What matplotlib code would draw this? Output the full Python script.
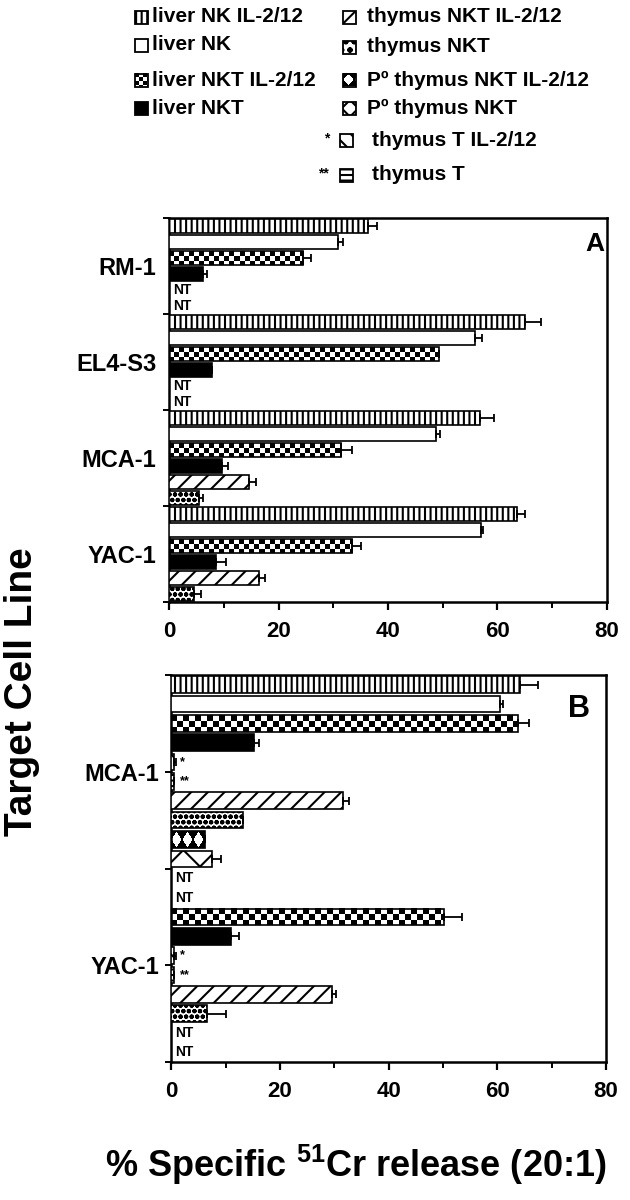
import numpy as np
import matplotlib
matplotlib.use('Agg')
import matplotlib.pyplot as plt
from matplotlib.patches import Rectangle

plt.rcParams['font.family'] = ['Liberation Sans', 'DejaVu Sans']
plt.rcParams['font.weight'] = 'bold'
plt.rcParams['hatch.linewidth'] = 1.5
plt.rcParams['mathtext.fontset'] = 'custom'
plt.rcParams['mathtext.rm'] = 'Liberation Sans:bold'
plt.rcParams['mathtext.bf'] = 'Liberation Sans:bold'

nan = np.nan

# ---- Panel A data (slots top to bottom within each target) ----
targets_a = ['RM-1', 'EL4-S3', 'MCA-1', 'YAC-1']
series_a = ['liver NK IL-2/12', 'liver NK', 'liver NKT IL-2/12', 'liver NKT',
            'thymus NKT IL-2/12', 'thymus NKT']
a_liver_nk_il2 = [36.4, 65.0, 56.8, 63.5]
a_liver_nk = [30.8, 55.9, 48.8, 57.0]
a_liver_nkt_il2 = [24.5, 49.4, 31.5, 33.5]
a_liver_nkt = [6.3, 7.9, 9.7, 8.5]
a_thymus_nkt_il2 = [nan, nan, 14.6, 16.4]
a_thymus_nkt = [nan, nan, 5.4, 4.6]
a_err_liver_nk_il2 = [1.6, 2.9, 2.6, 1.6]
a_err_liver_nk = [1.0, 1.2, 0.7, 0.3]
a_err_liver_nkt_il2 = [1.5, 0.0, 2.0, 1.5]
a_err_liver_nkt = [0.6, 0.0, 1.0, 2.0]
a_err_thymus_nkt_il2 = [nan, nan, 1.3, 1.1]
a_err_thymus_nkt = [nan, nan, 0.9, 1.2]

# ---- Panel B data ----
targets_b = ['MCA-1', 'YAC-1']
series_b = ['liver NK IL-2/12', 'liver NK', 'liver NKT IL-2/12', 'liver NKT',
            'thymus T IL-2/12', 'thymus T', 'thymus NKT IL-2/12', 'thymus NKT',
            'Pº thymus NKT IL-2/12', 'Pº thymus NKT']
b_liver_nk_il2 = [64.2, nan]
b_liver_nk = [60.5, nan]
b_liver_nkt_il2 = [63.8, 50.2]
b_liver_nkt = [15.2, 10.9]
b_thymus_t_il2 = [0.5, 0.5]
b_thymus_t = [0.5, 0.5]
b_thymus_nkt_il2 = [31.6, 29.6]
b_thymus_nkt = [13.1, 6.6]
b_po_thymus_nkt_il2 = [6.2, nan]
b_po_thymus_nkt = [7.4, nan]
b_err_liver_nk_il2 = [3.3, nan]
b_err_liver_nk = [0.5, nan]
b_err_liver_nkt_il2 = [2.0, 3.2]
b_err_liver_nkt = [1.0, 1.5]
b_err_thymus_t_il2 = [0.3, 0.3]
b_err_thymus_t = [0.0, 0.0]
b_err_thymus_nkt_il2 = [1.1, 0.7]
b_err_thymus_nkt = [0.0, 3.4]
b_err_po_thymus_nkt_il2 = [0.0, nan]
b_err_po_thymus_nkt = [1.7, nan]

# fill style of each group
styles = {
    'liver NK IL-2/12': ('hatch', '|||'),
    'liver NK': ('plain', None),
    'liver NKT IL-2/12': ('checker', None),
    'liver NKT': ('solid', None),
    'thymus NKT IL-2/12': ('hatch', '//'),
    'thymus NKT': ('hatch', 'ooo'),
    'Pº thymus NKT IL-2/12': ('diamond', None),
    'Pº thymus NKT': ('hatch', 'x'),
    'thymus T IL-2/12': ('hatch', '\\\\'),
    'thymus T': ('hatch', '---'),
}
stars = {'thymus T IL-2/12': '*', 'thymus T': '**'}


def pattern(kind, w, h, cell):
    w = max(int(round(w)), 1)
    h = max(int(round(h)), 1)
    yy, xx = np.mgrid[0:h, 0:w]
    if kind == 'checker':
        return ((xx // cell + yy // cell) % 2).astype(float)
    # white diamonds on black
    cw = 11
    dx = ((xx % cw) - cw / 2 + 0.5) / (cw / 2)
    dy = (yy - h / 2 + 0.5) / (h / 2)
    return (np.abs(dx) + np.abs(dy) < 0.9).astype(float)


def fill_rect(ax, x0, x1, y0, y1, kind, name, wpx, hpx, cell, lw=1.2, hatch_override=None):
    face = 'white'
    hatch = None
    if kind == 'solid':
        face = 'black'
    elif kind == 'hatch':
        hatch = hatch_override or styles[name][1]
    elif kind in ('checker', 'diamond'):
        face = 'none'
        ax.imshow(pattern(kind, wpx, hpx, cell), cmap='gray', vmin=0, vmax=1,
                  extent=[x0, x1, y1, y0], aspect='auto',
                  interpolation='nearest', zorder=2)
    ax.add_patch(Rectangle((x0, y0), x1 - x0, y1 - y0, facecolor=face,
                           edgecolor='black', hatch=hatch, lw=lw, zorder=3))


W, H = 630, 1200
fig = plt.figure(figsize=(W / 100, H / 100), dpi=100)

# overlay in pixel coordinates for legend and axis titles
ov = fig.add_axes([0, 0, 1, 1])
ov.set_xlim(0, W)
ov.set_ylim(H, 0)
ov.axis('off')


def px_axes(l, t, r, b):
    return fig.add_axes([l / W, 1 - b / H, (r - l) / W, (b - t) / H])


def panel(ax, targets, names, values, errors, letter, lpos, lsize, cell, ytick_len):
    n_per = len(names)
    n = len(targets) * n_per
    bh = 0.86
    px_x = ax.bbox.width / 80
    px_y = ax.bbox.height / n
    for k, name in enumerate(names):
        kind = styles[name][0]
        vals = np.array(values[k], dtype=float)
        errs = np.array(errors[k], dtype=float)
        ys = np.array([g * n_per + k + 0.5 for g in range(len(targets))])
        for v, y in zip(vals, ys):
            if np.isnan(v):
                ax.text(0.7, y, 'NT', fontsize=10, ha='left', va='center', zorder=5)
                continue
            fill_rect(ax, 0, v, y - bh / 2, y + bh / 2, kind, name,
                      v * px_x, bh * px_y, cell)
            if name in stars:
                ax.text(1.6, y, stars[name], fontsize=9, ha='left', va='center')
        ax.errorbar(vals, ys, xerr=[np.zeros_like(errs), errs], fmt='none',
                    ecolor='black', elinewidth=1.3, capsize=2.6, capthick=1.3, zorder=4)
    ax.set_xlim(0, 80)
    ax.set_ylim(n, 0)
    ax.set_xticks([0, 20, 40, 60, 80])
    ax.set_xticks([10, 30, 50, 70], minor=True)
    ax.set_yticks([g * n_per + n_per / 2 for g in range(len(targets))])
    ax.set_yticklabels(targets, fontsize=17)
    ax.set_yticks(np.arange(0, n + 1, n_per), minor=True)
    ax.tick_params(axis='x', which='major', length=6, width=1.6, labelsize=16, pad=8)
    ax.tick_params(axis='x', which='minor', length=4, width=1.4)
    ax.tick_params(axis='y', which='major', length=ytick_len, width=1.4, pad=9 - ytick_len)
    ax.tick_params(axis='y', which='minor', length=4, width=1.4)
    for s in ax.spines.values():
        s.set_linewidth(1.8)
    ax.text(lpos[0], lpos[1], letter, transform=ax.transAxes, fontsize=lsize,
            ha='center', va='center')


ax_a = px_axes(169, 218, 607, 602)
ax_b = px_axes(171.5, 675, 606, 1062)

panel(ax_a, targets_a, series_a,
      [a_liver_nk_il2, a_liver_nk, a_liver_nkt_il2, a_liver_nkt,
       a_thymus_nkt_il2, a_thymus_nkt],
      [a_err_liver_nk_il2, a_err_liver_nk, a_err_liver_nkt_il2, a_err_liver_nkt,
       a_err_thymus_nkt_il2, a_err_thymus_nkt],
      'A', (0.973, 0.932), 19, 5, 0)

panel(ax_b, targets_b, series_b,
      [b_liver_nk_il2, b_liver_nk, b_liver_nkt_il2, b_liver_nkt,
       b_thymus_t_il2, b_thymus_t, b_thymus_nkt_il2, b_thymus_nkt,
       b_po_thymus_nkt_il2, b_po_thymus_nkt],
      [b_err_liver_nk_il2, b_err_liver_nk, b_err_liver_nkt_il2, b_err_liver_nkt,
       b_err_thymus_t_il2, b_err_thymus_t, b_err_thymus_nkt_il2, b_err_thymus_nkt,
       b_err_po_thymus_nkt_il2, b_err_po_thymus_nkt],
      'B', (0.938, 0.912), 22, 6, 4)

# ---- legend ----
legend_col1 = ['liver NK IL-2/12', 'liver NK', 'liver NKT IL-2/12', 'liver NKT']
legend_col2 = ['thymus NKT IL-2/12', 'thymus NKT', 'Pº thymus NKT IL-2/12',
               'Pº thymus NKT', 'thymus T IL-2/12', 'thymus T']
rows1 = [17, 45, 80, 108]
rows2 = [17, 47, 80, 108, 140, 175]
icon_hatch = {'Pº thymus NKT': 'xx', 'thymus NKT': 'oo'}
sz = 13
for name, y in zip(legend_col1, rows1):
    fill_rect(ov, 135, 135 + sz, y - sz / 2, y + sz / 2, styles[name][0], name,
              sz, sz, 4, lw=1.3)
    ov.text(152, y, name, fontsize=15, ha='left', va='center')
for i, (name, y) in enumerate(zip(legend_col2, rows2)):
    x0 = 343 if i < 4 else 340
    fill_rect(ov, x0, x0 + sz, y - sz / 2, y + sz / 2, styles[name][0], name,
              sz, sz, 4, lw=1.3, hatch_override=icon_hatch.get(name))
    ov.text(367 if i < 4 else 372, y, name, fontsize=15, ha='left', va='center')
    if name in stars:
        ov.text(329, y - 2, stars[name], fontsize=10, ha='right', va='center')

ov.text(22, 692, 'Target Cell Line', fontsize=28, rotation=90,
        ha='center', va='center')
ov.text(356, 1165, r'% Specific $^{51}$Cr release (20:1)', fontsize=26,
        ha='center', va='center')

fig.savefig('out.png', dpi=100)
